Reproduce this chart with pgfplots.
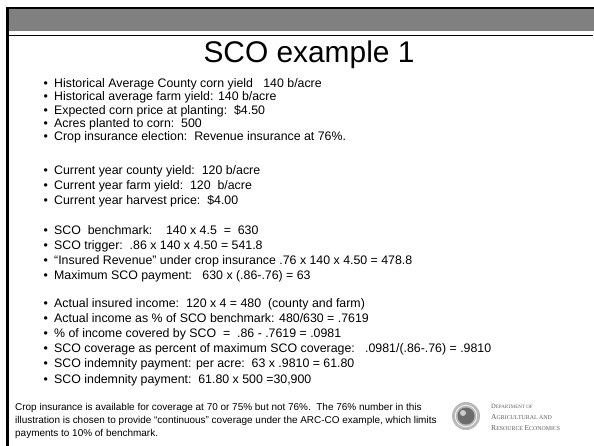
\documentclass[border=0pt]{standalone}
\usepackage{fontspec}
\setmainfont{Liberation Sans}
\newfontfamily\serif{Liberation Serif}
\usepackage{pgfplots}
\pgfplotsset{compat=1.18}
\definecolor{band}{RGB}{128,128,128}
\definecolor{thin}{RGB}{212,212,212}
\newcommand{\bl}[2]{%
  \node[anchor=mid west, inner sep=0pt, font=\fontsize{12.4}{14}\selectfont] at (axis cs:43.5,#1) {•};
  \node[anchor=mid west, inner sep=0pt, font=\fontsize{12.4}{14}\selectfont] at (axis cs:54,#1) {#2};}
\begin{document}
\begin{tikzpicture}
\begin{axis}[
  scale only axis, width=594bp, height=446bp,
  xmin=0, xmax=594, ymin=0, ymax=446, y dir=reverse,
  hide axis, clip=false]
\fill[white] (axis cs:0,0) rectangle (axis cs:594,446);
% header
\fill[black] (axis cs:6,6.7) rectangle (axis cs:594,9.4);
\fill[band] (axis cs:9.3,9.4) rectangle (axis cs:594,30.7);
\fill[thin] (axis cs:9.3,35.2) rectangle (axis cs:593,36.4);
\fill[black] (axis cs:6,6.7) rectangle (axis cs:9.3,446);
% title
\node[anchor=base, inner sep=0pt, font=\fontsize{30}{33}\selectfont] at (axis cs:309,63) {SCO example 1};
% bullets
\bl{85}{Historical Average County corn yield\ \ \ 140 b/acre}
\bl{98.2}{Historical average farm yield: 140 b/acre}
\bl{111.4}{Expected corn price at planting:\ \ \$4.50}
\bl{124.6}{Acres planted to corn:\ \ 500}
\bl{137.8}{Crop insurance election:\ \ Revenue insurance at 76\%.}
\bl{171.5}{Current year county yield:\ \ 120 b/acre}
\bl{186.5}{Current year farm yield:\ \ 120\ \ b/acre}
\bl{201.5}{Current year harvest price:\ \ \$4.00}
\bl{231.7}{SCO\ \ benchmark:\ \ \ \ 140 x 4.5\ \ =\ \ 630}
\bl{246.7}{SCO trigger:\ \ .86 x 140 x 4.50 = 541.8}
\bl{261.7}{“Insured Revenue” under crop insurance .76 x 140 x 4.50 = 478.8}
\bl{276.7}{Maximum SCO payment:\ \ \ 630 x (.86-.76) = 63}
\bl{304.5}{Actual insured income:\ \ 120 x 4 = 480\ \ (county and farm)}
\bl{319.7}{Actual income as \% of SCO benchmark: 480/630 = .7619}
\bl{334.9}{\% of income covered by SCO\ \ =\ \ .86 - .7619 = .0981}
\bl{350.1}{SCO coverage as percent of maximum SCO coverage:\ \ \ .0981/(.86-.76) = .9810}
\bl{365.3}{SCO indemnity payment: per acre:\ \ 63 x .9810 = 61.80}
\bl{380.5}{SCO indemnity payment:\ \ 61.80 x 500 =30,900}
% footer
\node[anchor=mid west, inner sep=0pt, font=\fontsize{10}{12}\selectfont] at (axis cs:15,408) {Crop insurance is available for coverage at 70 or 75\% but not 76\%.\ \ The 76\% number in this};
\node[anchor=mid west, inner sep=0pt, font=\fontsize{10}{12}\selectfont] at (axis cs:15,420.5) {illustration is chosen to provide “continuous” coverage under the ARC-CO example, which limits};
\node[anchor=mid west, inner sep=0pt, font=\fontsize{10}{12}\selectfont] at (axis cs:15,434) {payments to 10\% of benchmark.};
% logo
\fill[gray!55] (axis cs:466,416) circle[radius=14bp];
\fill[gray!85!black] (axis cs:466,416) circle[radius=8.5bp];
\fill[gray!40] (axis cs:463,413) circle[radius=3bp];
\draw[white, line width=0.7pt] (axis cs:466,416) circle[radius=10.8bp];
\node[anchor=mid west, inner sep=0pt, text=gray!75!black, font=\serif\fontsize{6.6}{7}\selectfont] at (axis cs:491,406) {D\fontsize{5}{6}\selectfont EPARTMENT OF};
\node[anchor=mid west, inner sep=0pt, text=gray!75!black, font=\serif\fontsize{7.6}{8}\selectfont] at (axis cs:491,417) {A\fontsize{5.9}{6}\selectfont GRICULTURAL AND};
\node[anchor=mid west, inner sep=0pt, text=gray!75!black, font=\serif\fontsize{7.6}{8}\selectfont] at (axis cs:491,428) {R\fontsize{5.9}{6}\selectfont ESOURCE \fontsize{7.6}{8}\selectfont E\fontsize{5.9}{6}\selectfont CONOMICS};
\end{axis}
\end{tikzpicture}
\end{document}
